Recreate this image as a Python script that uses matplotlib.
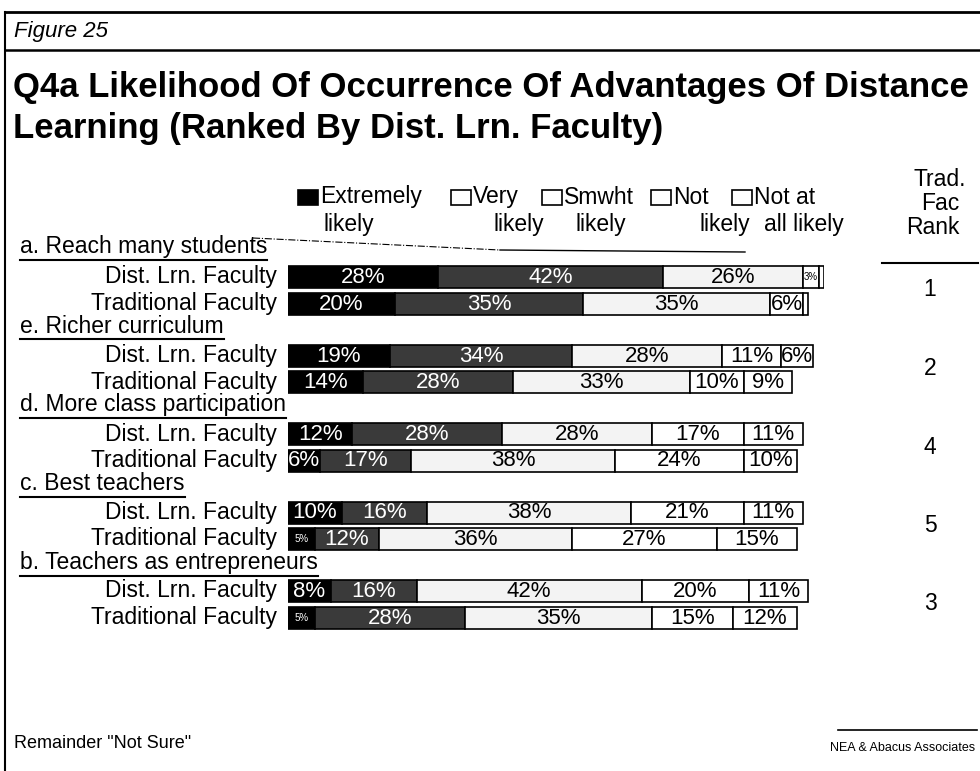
import matplotlib
matplotlib.use('Agg')
import matplotlib.pyplot as plt
from matplotlib.patches import Rectangle
from matplotlib.lines import Line2D

plt.rcParams['font.family'] = ['Liberation Sans', 'DejaVu Sans']

# data
groups = ['a. Reach many students', 'e. Richer curriculum', 'd. More class participation',
          'c. Best teachers', 'b. Teachers as entrepreneurs']
faculty = ['Dist. Lrn. Faculty', 'Traditional Faculty']
answers = ['Extremely', 'Very', 'Smwht', 'Not', 'Not at']
answers_2nd = ['likely', 'likely', 'likely', 'likely', 'all likely']

dist_extremely = [28, 19, 12, 10, 8]
dist_very = [42, 34, 28, 16, 16]
dist_smwht = [26, 28, 28, 38, 42]
dist_not = [3, 11, 17, 21, 20]
dist_not_at_all = [1, 6, 11, 11, 11]

trad_extremely = [20, 14, 6, 5, 5]
trad_very = [35, 28, 17, 12, 28]
trad_smwht = [35, 33, 38, 36, 35]
trad_not = [6, 10, 24, 27, 15]
trad_not_at_all = [1, 9, 10, 15, 12]

trad_rank = [1, 2, 4, 5, 3]

seg_colors = ['black', '#3a3a3a', '#f3f3f3', 'white', 'white']
txt_colors = ['white', 'white', 'black', 'black', 'black']

W, H = 980, 771
FS = 16.5
fig = plt.figure(figsize=(W / 100, H / 100), dpi=100)


def fx(px):
    return px / W


def fy(py):
    return 1 - py / H


# bar area: x in percent, y in pixel rows below y=230
ax = fig.add_axes([fx(288), fy(640), 536 / W, 410 / H])
ax.set_xlim(0, 100)
ax.set_ylim(410, 0)
ax.axis('off')

dist = [dist_extremely, dist_very, dist_smwht, dist_not, dist_not_at_all]
trad = [trad_extremely, trad_very, trad_smwht, trad_not, trad_not_at_all]

bar_h = 22
headers = []
for g, name in enumerate(groups):
    y_head = 17 + g * 79
    headers.append(fig.text(fx(20), fy(230 + y_head), name, fontsize=FS, va='center', ha='left'))
    for r, series in enumerate([dist, trad]):
        y = 47 + g * 78.5 + r * 26.5
        left = 0
        for k in range(5):
            v = series[k][g]
            ax.barh(y, v, left=left, height=bar_h, color=seg_colors[k],
                    edgecolor='black', linewidth=1.2)
            if v > 1:
                fs = 7 if v <= 5 else 16
                ax.text(left + v / 2, y + 0.5, f'{v}%', ha='center', va='center',
                        fontsize=fs, color=txt_colors[k])
            left += v
        ax.text(-2, y, faculty[r], ha='right', va='center', fontsize=FS)
    fig.text(fx(930), fy(230 + 47 + g * 78.5 + 13), str(trad_rank[g]),
             ha='center', va='center', fontsize=FS)

# underline the group headers
fig.canvas.draw()
rend = fig.canvas.get_renderer()
for t in headers:
    bb = t.get_window_extent(rend)
    x0, x1 = bb.x0 / W, bb.x1 / W
    yl = (bb.y0 - 1) / H
    fig.add_artist(Line2D([x0, x1], [yl, yl], color='black', lw=1.5))

# legend
sq_x = [298, 451, 542, 651, 732]
txt2_x = [323, 493, 575, 699, 764]
for k in range(5):
    fig.add_artist(Rectangle((fx(sq_x[k]), fy(205)), 20 / W, 15 / H,
                             facecolor='black' if k == 0 else 'white',
                             edgecolor='black', lw=1.2))
    fig.text(fx(sq_x[k] + 22), fy(197), answers[k], fontsize=FS, va='center', ha='left')
    fig.text(fx(txt2_x[k]), fy(225), answers_2nd[k], fontsize=FS, va='center', ha='left')

# rank column header
fig.text(fx(940), fy(180), 'Trad.', fontsize=FS, ha='center', va='center')
fig.text(fx(940), fy(203), 'Fac', fontsize=FS, ha='center', va='center')
fig.text(fx(933), fy(228), 'Rank', fontsize=FS, ha='center', va='center')
fig.add_artist(Line2D([fx(882), fx(978)], [fy(263), fy(263)], color='black', lw=1.5))

# scan artifact line under legend
fig.add_artist(Line2D([fx(253), fx(500)], [fy(238), fy(250)], color='black', lw=0.8, ls='-.'))
fig.add_artist(Line2D([fx(500), fx(745)], [fy(250), fy(252)], color='black', lw=1.0))

# frame and titles
fig.add_artist(Line2D([fx(5), fx(980)], [fy(12), fy(12)], color='black', lw=2))
fig.add_artist(Line2D([fx(5), fx(980)], [fy(50), fy(50)], color='black', lw=1.8))
fig.add_artist(Line2D([fx(5), fx(5)], [fy(12), fy(771)], color='black', lw=1.5))
fig.text(fx(14), fy(31), 'Figure 25', fontsize=16, style='italic', va='center', ha='left')
fig.text(fx(13), fy(108),
         'Q4a Likelihood Of Occurrence Of Advantages Of Distance\n'
         'Learning (Ranked By Dist. Lrn. Faculty)',
         fontsize=25, fontweight='bold', va='center', ha='left', linespacing=1.32)

fig.text(fx(14), fy(744), 'Remainder "Not Sure"', fontsize=13, va='center', ha='left')
fig.text(fx(975), fy(748), 'NEA & Abacus Associates', fontsize=9, va='center', ha='right')
fig.add_artist(Line2D([fx(838), fx(977)], [fy(730), fy(730)], color='black', lw=1.2))

fig.savefig('out.png', dpi=100, facecolor='white')
